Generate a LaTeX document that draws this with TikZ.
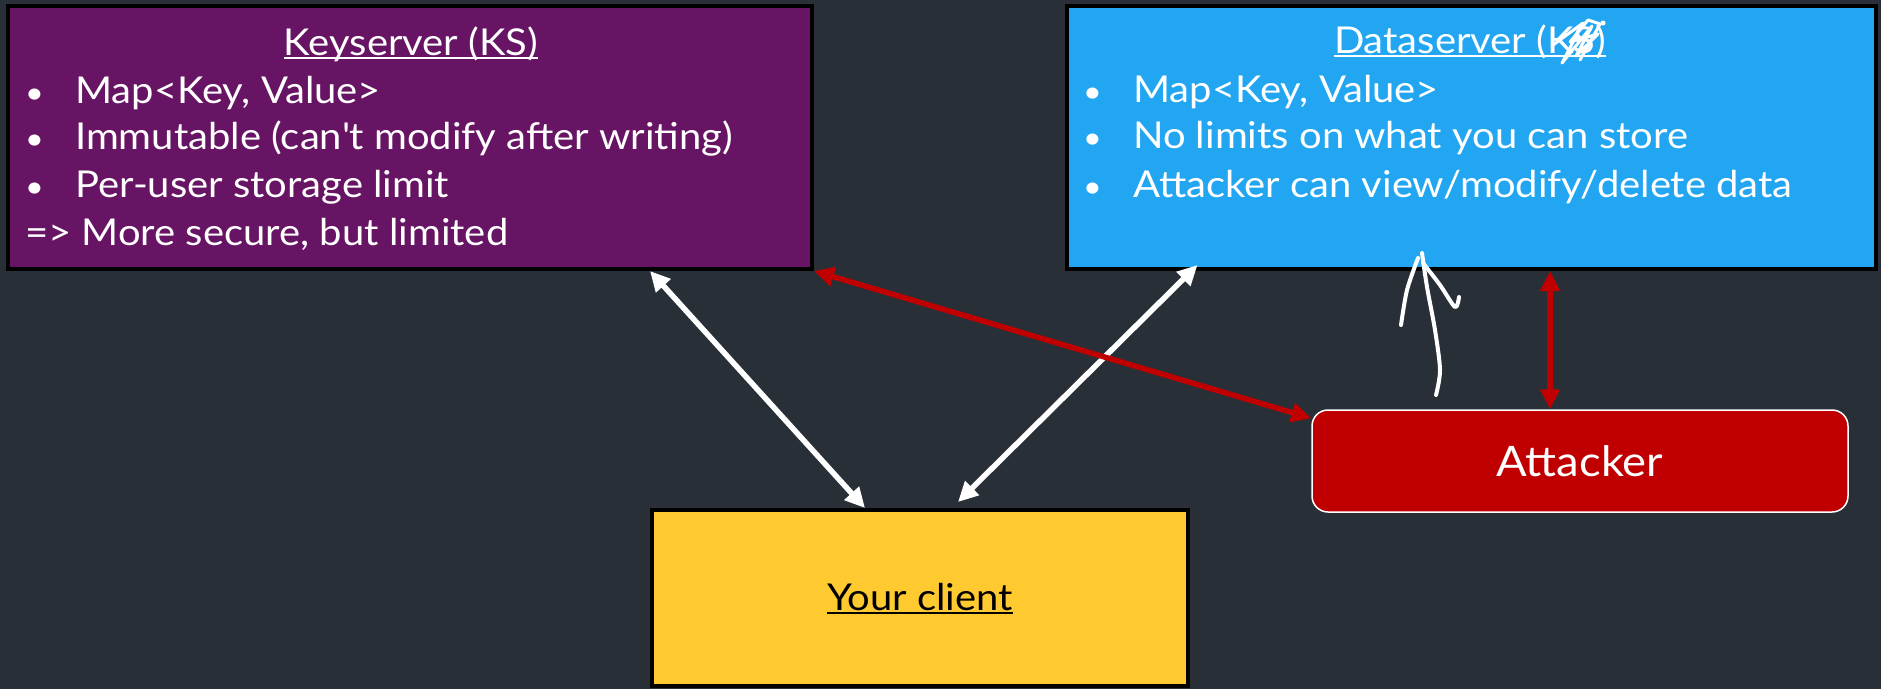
\documentclass[tikz,border=0pt]{standalone}
\usepackage{fontspec}
\setmainfont{Lato}[FakeStretch=1.08]
\usetikzlibrary{arrows.meta}

\definecolor{slidebg}{RGB}{40,47,55}
\definecolor{kspurple}{RGB}{103,20,100}
\definecolor{dsblue}{RGB}{35,166,242}
\definecolor{clientyellow}{RGB}{255,202,48}
\definecolor{attackred}{RGB}{192,0,0}

% underline sitting just under the baseline
\newsavebox\ulbox
\newcommand\ultext[1]{\sbox\ulbox{#1}\rlap{\rule[-4pt]{\wd\ulbox}{2pt}}\usebox\ulbox}
\newcommand\bul{\makebox[50pt][l]{\fontsize{30}{30}\selectfont •}}

\tikzset{
  server/.style={draw=black, line width=4pt, inner sep=0pt},
  txt/.style={inner sep=0pt, anchor=base west, text=white, font=\fontsize{37}{44}\selectfont},
  ttl/.style={txt, anchor=base},
  link/.style={line width=5.5pt, {Triangle[length=20pt,width=19pt]}-{Triangle[length=20pt,width=19pt]}},
  scribble/.style={white, line cap=round, line join=round}
}

\begin{document}
\begin{tikzpicture}[x=1pt,y=-1pt]
\fill[slidebg] (0,0) rectangle (1881,689);
\useasboundingbox (0,0) rectangle (1881,689);

%% servers, client and attacker
\node[server, fill=kspurple, minimum width=804pt, minimum height=263pt] (ks) at (410,137.5) {};
\node[server, fill=dsblue, minimum width=809pt, minimum height=263pt] (ds) at (1471.5,137.5) {};
\node[server, fill=clientyellow, minimum width=536pt, minimum height=176pt] (client) at (920,598) {};
\node[draw=white, line width=1.5pt, rounded corners=16pt, fill=attackred, inner sep=0pt,
      minimum width=536pt, minimum height=102pt] (att) at (1580,461) {};

%% keyserver text
\node[ttl] (kstitle) at (411,55) {\ultext{Keyserver (KS)}};
\node[txt] (ks1) at (25,103) {\bul Map<Key, Value>};
\node[txt] (ks2) at (25,149) {\bul Immutable (can\textquotesingle t modify after writing)};
\node[txt] (ks3) at (25,197) {\bul Per-user storage limit};
\node[txt] (ks4) at (25,245) {=> More secure, but limited};

%% dataserver text
\node[ttl] (dstitle) at (1470,53) {\ultext{Dataserver (KS)}};
\node[txt] (ds1) at (1083,102) {\bul Map<Key, Value>};
\node[txt] (ds2) at (1083,148) {\bul No limits on what you can store};
\node[txt] (ds3) at (1083,197) {\bul Attacker can view/modify/delete data};

%% client and attacker labels
\node[ttl, text=black] (clientlbl) at (client.center |- 0,610) {\ultext{Your client}};
\node[ttl, font=\fontsize{42}{50}\selectfont] (attlbl) at (att.center |- 0,476) {Attacker};

%% connections
\draw[link, white] ([xshift=644pt]ks.south west) -- ([xshift=215pt]client.north west);
\draw[link, white] ([xshift=132.5pt,yshift=6pt]ds.south west) -- ([xshift=308pt,yshift=6pt]client.north west);
\draw[link, attackred] (ks.south east) -- ([yshift=-9pt]att.north west);
\coordinate (redx) at ([xshift=-30pt]att.north);
\draw[link, attackred] (redx |- ds.south) -- (redx);

%% hand-drawn marks
\draw[scribble, line width=4pt] plot[smooth] coordinates {(1436,395) (1440,370) (1435,330) (1427,287) (1422,253)};
\draw[scribble, line width=4pt] plot[smooth] coordinates {(1401,325) (1407,290) (1418,258)};
\draw[scribble, line width=4pt] plot[smooth] coordinates {(1423,263) (1440,285) (1455,307) (1459,297)};
\draw[scribble, line width=3pt] (1553,45) -- (1583,23) -- (1562,63) -- (1592,26) -- (1576,56)
  -- (1598,34) -- (1570,42) -- (1588,20) -- (1600,24) -- (1580,60);
\fill[white] (1603,23) circle (2.5pt);
\end{tikzpicture}
\end{document}
